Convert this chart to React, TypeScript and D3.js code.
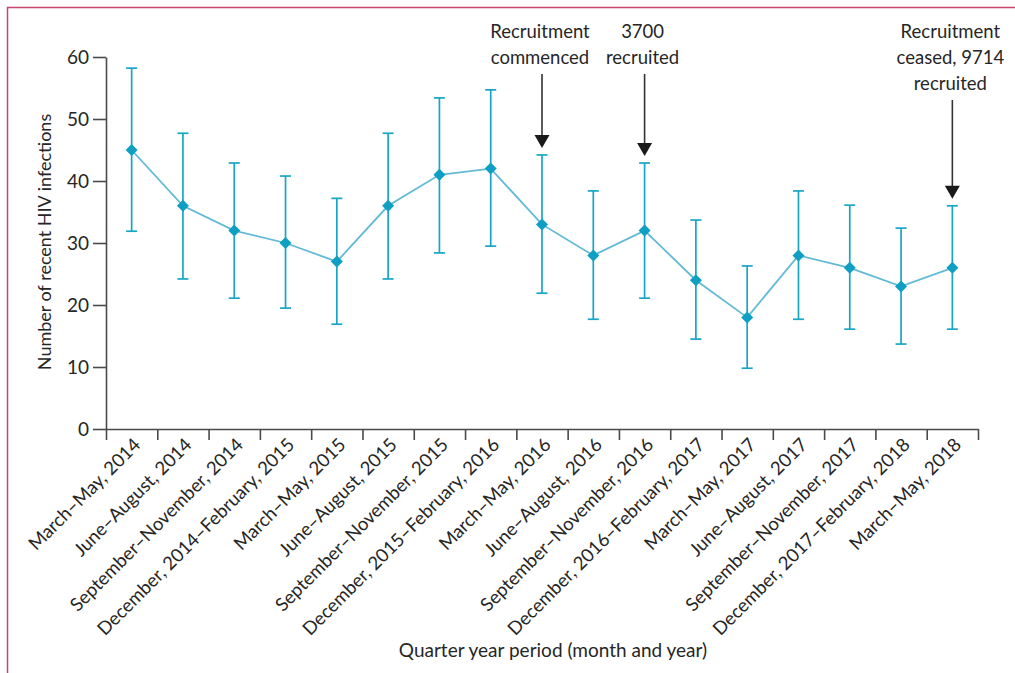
import { useRef, useEffect } from 'react';
import * as d3 from 'd3';

const periods = [
  'March–May, 2014',
  'June–August, 2014',
  'September–November, 2014',
  'December, 2014–February, 2015',
  'March–May, 2015',
  'June–August, 2015',
  'September–November, 2015',
  'December, 2015–February, 2016',
  'March–May, 2016',
  'June–August, 2016',
  'September–November, 2016',
  'December, 2016–February, 2017',
  'March–May, 2017',
  'June–August, 2017',
  'September–November, 2017',
  'December, 2017–February, 2018',
  'March–May, 2018',
];

const infections = [45, 36, 32, 30, 27, 36, 41, 42, 33, 28, 32, 24, 18, 28, 26, 23, 26];
const ciLower = [31.9, 24.2, 21.1, 19.5, 16.9, 24.2, 28.4, 29.5, 21.9, 17.7, 21.1, 14.5, 9.8, 17.7, 16.1, 13.7, 16.1];
const ciUpper = [58.2, 47.7, 42.9, 40.8, 37.2, 47.7, 53.4, 54.7, 44.2, 38.4, 42.9, 33.7, 26.3, 38.4, 36.1, 32.4, 36.0];

const yTicks = [0, 10, 20, 30, 40, 50, 60];

const annotationIndex = [8, 10, 16];
const annotationLines = [
  ['Recruitment', 'commenced'],
  ['3700', 'recruited'],
  ['Recruitment', 'ceased, 9714', 'recruited'],
];

const FONT = 'Lato, "Open Sans", sans-serif';
const TEXT = '#262626';
const AXIS = '#4a4a4a';
const TEAL = '#17a5c8';

export default function App() {
  const svgRef = useRef<SVGSVGElement>(null);
  const width = 1015;
  const height = 673;

  useEffect(() => {
    if (!svgRef.current) return;
    const svg = d3.select(svgRef.current);
    svg.selectAll('*').remove();

    const x0 = 106, x1 = 978, yTop = 57, yBottom = 429;

    // frame
    svg.append('path')
      .attr('d', `M7.5,${height} L7.5,7.5 L${width},7.5`)
      .attr('fill', 'none')
      .attr('stroke', '#c9466c')
      .attr('stroke-width', 1.5);

    const xIdx = d3.scaleLinear().domain([0, periods.length]).range([x0, x1]);
    const xc = (i: number) => xIdx(i + 0.5);
    const y = d3.scaleLinear().domain([0, 60]).range([yBottom, yTop]);

    // Y axis
    const yAxis = d3.axisLeft(y).tickValues(yTicks).tickSize(13).tickSizeOuter(0).tickPadding(4);
    const gy = svg.append('g').attr('transform', `translate(${x0},0)`).call(yAxis);
    gy.selectAll('path, line').attr('stroke', AXIS).attr('stroke-width', 1.6);
    gy.selectAll('text')
      .attr('fill', TEXT)
      .attr('font-family', FONT)
      .attr('font-size', '19px')
      .attr('dy', '0.34em');

    // X axis (ticks at band boundaries)
    const xAxis = d3.axisBottom(xIdx)
      .tickValues(d3.range(periods.length + 1))
      .tickSize(11)
      .tickSizeOuter(0)
      .tickFormat(() => '');
    const gx = svg.append('g').attr('transform', `translate(0,${yBottom})`).call(xAxis);
    gx.selectAll('path, line').attr('stroke', AXIS).attr('stroke-width', 1.6);

    // category labels
    svg.append('g')
      .selectAll('text')
      .data(periods)
      .enter()
      .append('text')
      .attr('transform', (_, i) => `translate(${xc(i) + 10},${yBottom + 17}) rotate(-45)`)
      .attr('text-anchor', 'end')
      .attr('fill', TEXT)
      .attr('font-family', FONT)
      .attr('font-size', '18.5px')
      .text(d => d);

    // axis titles
    svg.append('text')
      .attr('transform', `translate(51,242) rotate(-90)`)
      .attr('text-anchor', 'middle')
      .attr('fill', TEXT)
      .attr('font-family', FONT)
      .attr('font-size', '18px')
      .text('Number of recent HIV infections');

    svg.append('text')
      .attr('x', 553)
      .attr('y', 657)
      .attr('text-anchor', 'middle')
      .attr('fill', TEXT)
      .attr('font-family', FONT)
      .attr('font-size', '19px')
      .text('Quarter year period (month and year)');

    // connecting line
    const line = d3.line<number>()
      .x((_, i) => xc(i))
      .y(d => y(d));
    svg.append('path')
      .datum(infections)
      .attr('fill', 'none')
      .attr('stroke', '#62bad6')
      .attr('stroke-width', 1.8)
      .attr('d', line);

    // error bars
    const eb = svg.append('g').attr('stroke', TEAL).attr('stroke-width', 1.7);
    infections.forEach((_, i) => {
      const cx = xc(i);
      eb.append('line').attr('x1', cx).attr('x2', cx).attr('y1', y(ciLower[i])).attr('y2', y(ciUpper[i]));
      eb.append('line').attr('x1', cx - 5.5).attr('x2', cx + 5.5).attr('y1', y(ciLower[i])).attr('y2', y(ciLower[i]));
      eb.append('line').attr('x1', cx - 5.5).attr('x2', cx + 5.5).attr('y1', y(ciUpper[i])).attr('y2', y(ciUpper[i]));
    });

    // diamond markers
    svg.append('g')
      .selectAll('path')
      .data(infections)
      .enter()
      .append('path')
      .attr('d', (d, i) => {
        const cx = xc(i), cy = y(d), r = 6;
        return `M${cx},${cy - r} L${cx + r},${cy} L${cx},${cy + r} L${cx - r},${cy} Z`;
      })
      .attr('fill', '#0f9fc2');

    // annotations
    annotationIndex.forEach((idx, k) => {
      const cx = xc(idx);
      const lines = annotationLines[k];
      const g = svg.append('g');
      lines.forEach((t, j) => {
        g.append('text')
          .attr('x', cx - 2)
          .attr('y', 38 + j * 26)
          .attr('text-anchor', 'middle')
          .attr('fill', TEXT)
          .attr('font-family', FONT)
          .attr('font-size', '18.5px')
          .text(t);
      });
      const startY = 38 + (lines.length - 1) * 26 + 10;
      const tipY = y(ciUpper[idx]) - 7;
      g.append('line')
        .attr('x1', cx).attr('x2', cx)
        .attr('y1', startY).attr('y2', tipY - 10)
        .attr('stroke', '#333')
        .attr('stroke-width', 1.6);
      g.append('path')
        .attr('d', `M${cx - 7.5},${tipY - 13} L${cx + 7.5},${tipY - 13} L${cx},${tipY} Z`)
        .attr('fill', '#1a1a1a');
    });
  }, []);

  return (
    <svg
      ref={svgRef}
      width={width}
      height={height}
      style={{ position: 'absolute', left: 0, top: 0, background: '#fff' }}
    />
  );
}
